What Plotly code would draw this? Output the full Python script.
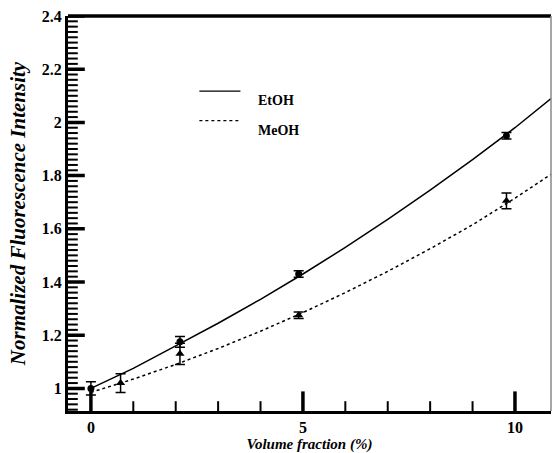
import plotly.graph_objects as go

# data points
etoh_x = [0.0, 2.1, 4.9, 9.8]
etoh_y = [1.0, 1.175, 1.43, 1.95]
etoh_err = [0.025, 0.02, 0.012, 0.012]

meoh_x = [0.7, 2.1, 4.9, 9.8]
meoh_y = [1.02, 1.13, 1.275, 1.705]
meoh_err = [0.035, 0.04, 0.012, 0.03]

# fitted curves
fit_x = [0, 1, 2, 3, 4, 5, 6, 7, 8, 9, 10, 10.85]
etoh_fit = [1.0, 1.075, 1.16, 1.245, 1.335, 1.43, 1.53, 1.635, 1.745, 1.86, 1.98, 2.09]
meoh_fit = [0.985, 1.035, 1.09, 1.15, 1.215, 1.285, 1.36, 1.44, 1.525, 1.615, 1.715, 1.805]

legend_names = ["EtOH", "MeOH"]

# axis ticks
x_major = [0, 5, 10]
x_minor = [1, 2, 3, 4, 6, 7, 8, 9]
y_major = [1.0, 1.2, 1.4, 1.6, 1.8, 2.0, 2.2, 2.4]
y_minor = [round(0.92 + 0.02 * i, 2) for i in range(75)]

X_RANGE = [-0.54, 10.85]
Y_RANGE = [0.915, 2.4]
W, H = 554, 453
M = dict(l=68, r=3, t=16, b=37)

FONT = "Liberation Serif"

fig = go.Figure()
fig.add_trace(go.Scatter(x=fit_x, y=etoh_fit, mode="lines",
                         line=dict(color="black", width=1.5), showlegend=False))
fig.add_trace(go.Scatter(x=fit_x, y=meoh_fit, mode="lines",
                         line=dict(color="black", width=1.5, dash="dot"), showlegend=False))
fig.add_trace(go.Scatter(x=etoh_x, y=etoh_y, mode="markers",
                         marker=dict(symbol="circle", size=7, color="black"),
                         error_y=dict(type="data", array=etoh_err, color="black", thickness=1.5, width=5),
                         showlegend=False))
fig.add_trace(go.Scatter(x=meoh_x, y=meoh_y, mode="markers",
                         marker=dict(symbol="triangle-up", size=8, color="black"),
                         error_y=dict(type="data", array=meoh_err, color="black", thickness=1.5, width=5),
                         showlegend=False))

# inward tick marks as line markers centred on the axis; the outer half is clipped
fig.add_trace(go.Scatter(x=x_major, y=[Y_RANGE[0]] * len(x_major), mode="markers", cliponaxis=True,
                         hoverinfo="skip",
                         marker=dict(symbol="line-ns", size=28, line=dict(color="black", width=3.5)),
                         showlegend=False))
fig.add_trace(go.Scatter(x=x_minor, y=[Y_RANGE[0]] * len(x_minor), mode="markers", cliponaxis=True,
                         hoverinfo="skip",
                         marker=dict(symbol="line-ns", size=14, line=dict(color="black", width=2)),
                         showlegend=False))
fig.add_trace(go.Scatter(x=[X_RANGE[0]] * len(y_major), y=y_major, mode="markers", cliponaxis=True,
                         hoverinfo="skip",
                         marker=dict(symbol="line-ew", size=24, line=dict(color="black", width=3.5)),
                         showlegend=False))
fig.add_trace(go.Scatter(x=[X_RANGE[0]] * len(y_minor), y=y_minor, mode="markers", cliponaxis=True,
                         hoverinfo="skip",
                         marker=dict(symbol="line-ew", size=14, line=dict(color="black", width=2)),
                         showlegend=False))

# legend samples
leg_y = [0.81, 0.735]
fig.add_shape(type="line", xref="paper", yref="paper", x0=0.272, x1=0.357, y0=leg_y[0], y1=leg_y[0],
              line=dict(color="black", width=1.2))
fig.add_shape(type="line", xref="paper", yref="paper", x0=0.272, x1=0.357, y0=leg_y[1], y1=leg_y[1],
              line=dict(color="black", width=1.2, dash="dot"))
for name, yy in zip(legend_names, leg_y):
    fig.add_annotation(xref="paper", yref="paper", x=0.39, y=yy, text=name,
                       showarrow=False, xanchor="left",
                       font=dict(family=FONT, size=14, color="black", weight="bold"))

# frame: top thick black, right thin grey
fig.add_shape(type="line", xref="paper", yref="paper", x0=0, x1=1, y0=1, y1=1,
              line=dict(color="black", width=3.5), layer="above")
fig.add_shape(type="line", xref="paper", yref="paper", x0=1, x1=1, y0=0, y1=1,
              line=dict(color="#888888", width=1.5), layer="above")

fig.update_layout(
    width=W, height=H,
    margin=M,
    plot_bgcolor="white", paper_bgcolor="white",
    font=dict(family=FONT, color="black"),
)
fig.update_xaxes(
    range=X_RANGE, tickmode="array", tickvals=x_major, ticks="",
    showline=True, linewidth=3, linecolor="black",
    showgrid=False, zeroline=False,
    tickfont=dict(family=FONT, size=16, weight="bold"),
    title=dict(text="Volume fraction (%)",
               font=dict(family=FONT, size=15, weight="bold", style="italic"), standoff=3),
)
fig.update_yaxes(
    range=Y_RANGE, tickmode="array", tickvals=y_major, ticks="",
    showline=True, linewidth=3, linecolor="black",
    showgrid=False, zeroline=False,
    tickfont=dict(family=FONT, size=16, weight="bold"),
    title=dict(text="Normalized Fluorescence Intensity",
               font=dict(family=FONT, size=21, weight="bold", style="italic"), standoff=11),
)

fig.write_html("out.html", config={"displayModeBar": False},
               post_script="document.body.style.margin='0px';")
